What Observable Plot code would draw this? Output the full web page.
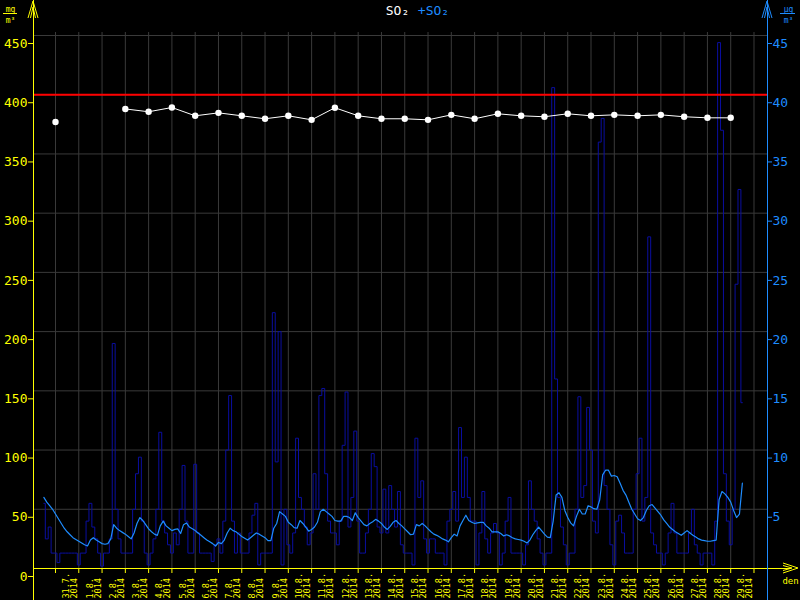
<!DOCTYPE html>
<html><head><meta charset="utf-8">
<script src="https://cdn.jsdelivr.net/npm/d3@7"></script>
<script src="https://cdn.jsdelivr.net/npm/@observablehq/plot@0.6"></script>
<style>html,body{margin:0;padding:0;background:#000;overflow:hidden;}</style>
</head><body><div id="chart"></div>
<script>
// ---- data ----
const seriesStart = "2014-07-30T12:00:00Z";
const stepHours = 3;
// SO2 concentration (µg/m3), every 3 hours, from 30.7.2014 12:00
const hourlySO2 = [
  5.5, 2.5, 3.5, 1.3,
  1.3, 0.5, 1.3, 1.3, 1.3, 1.3, 1.3, 1.3,
  0.3, 1.3, 1.3, 4.0, 5.5, 3.5, 2.5, 1.3,
  0.2, 1.3, 1.3, 2.5, 19, 5, 2.5, 1.3,
  1.3, 1.3, 1.3, 5, 8, 9.4, 4, 1.3,
  0.3, 1.3, 2.5, 5, 11.5, 4, 3, 2,
  1.3, 3, 2, 5, 8.7, 4, 1.3, 1.3,
  8.8, 3, 1.3, 1.3, 1.3, 1.3, 0.6, 2,
  2.5, 1.3, 4, 10, 14.6, 4, 1.3, 3,
  1.3, 1.3, 1.3, 3, 4.5, 5.5, 0.3, 1.3,
  1.3, 1.3, 1.3, 21.6, 9, 20, 0.3, 5,
  2, 1.3, 3, 11, 6, 5, 3.5, 2,
  3, 8, 5, 14.6, 15.2, 8, 4, 3,
  3, 2, 4, 10.4, 14.9, 3.5, 6, 11.6,
  4, 1.3, 1.3, 3, 5, 9.7, 8.6, 3.5,
  3, 6.7, 3, 7, 5, 3.5, 6.5, 2,
  1.3, 1.3, 1.3, 0.3, 11, 6, 7.4, 2.5,
  1.3, 2.5, 2.5, 1.3, 1.3, 1.3, 0.3, 4,
  5, 6.5, 4, 11.9, 6, 9.4, 6, 4,
  4, 0.3, 3, 6.5, 2.5, 1.3, 3, 3.8,
  3, 0.3, 1.3, 4, 6, 1.3, 1.3, 1.3,
  1.3, 0.3, 2, 7.4, 5, 4, 2.5, 1.3,
  0.3, 1.3, 1.3, 40.6, 16, 6, 3.5, 2,
  0.3, 1.3, 1.3, 5, 14.5, 6, 7, 13.6,
  10, 4, 3, 36, 38, 7, 5, 2,
  0.3, 4, 4.5, 3, 1.3, 1.3, 1.3, 5,
  8, 11, 4, 6, 28, 3, 2, 1.3,
  1.3, 0.3, 1.3, 3, 5.5, 3, 1.3, 1.3,
  1.3, 1.3, 3, 5, 2, 1.3, 0.3, 1.3,
  1.3, 1.3, 0.3, 4, 44.4, 37, 8, 4,
  2, 5, 24, 32, 14
];
// moving average (µg/m3), same timestamps
const avgSO2 = [
  6.0, 5.6, 5.3, 5.0,
  4.6, 4.2, 3.8, 3.4, 3.1, 2.85, 2.6, 2.45,
  2.3, 2.15, 2.0, 1.9, 2.4, 2.6, 2.4, 2.25,
  2.1, 2.05, 2.1, 2.5, 3.7, 3.4, 3.2, 3.05,
  2.9, 2.7, 2.5, 3.0, 3.8, 4.3, 4.05, 3.7,
  3.35, 3.1, 2.9, 2.8, 3.6, 4.0, 3.6, 3.4,
  3.2, 3.3, 3.35, 2.95, 3.7, 3.85, 3.5, 3.35,
  3.2, 3.0, 2.8, 2.6, 2.4, 2.25, 2.1, 1.9,
  2.2, 2.1, 2.4, 3.0, 3.4, 3.2, 3.1, 2.9,
  2.7, 2.55, 2.4, 2.6, 2.8, 3.0, 2.9, 2.75,
  2.6, 2.35, 2.35, 3.4, 3.8, 4.8, 4.6, 4.4,
  3.9, 3.7, 3.45, 3.4, 4.05, 3.8, 3.5, 3.15,
  3.3, 3.5, 3.9, 4.8, 5.0, 4.8, 4.6, 4.4,
  4.05, 4.0, 4.0, 4.4, 4.4, 4.3, 4.05, 4.7,
  4.3, 4.0, 3.7, 3.6, 3.8, 3.95, 4.15, 4.0,
  3.8, 3.5, 3.3, 3.55, 3.9, 4.05, 3.8, 3.6,
  3.35, 3.1, 2.85, 2.9, 3.7, 3.6, 3.8, 3.6,
  3.35, 3.1, 2.9, 2.8, 2.65, 2.5, 2.4, 2.25,
  2.6, 2.9, 2.75, 3.6, 4.05, 4.5, 4.05, 3.9,
  3.8, 3.85, 3.9, 3.9, 3.6, 3.4, 3.1, 3.1,
  3.1, 2.95, 2.75, 2.85, 2.75, 2.6, 2.5, 2.45,
  2.4, 2.3, 2.15, 2.4, 2.85, 3.2, 3.5, 3.2,
  2.9, 2.65, 2.6, 4.0, 6.2, 6.4, 6.0, 4.9,
  4.3, 3.85, 3.6, 4.4, 5.0, 4.6, 4.6, 5.3,
  5.2, 5.05, 5.0, 5.8, 7.9, 8.3, 8.3, 7.8,
  7.85, 7.75, 7.2, 6.6, 6.2, 5.6, 5.0, 4.6,
  4.2, 4.05, 4.3, 4.9, 5.3, 5.4, 5.1, 4.8,
  4.5, 4.1, 3.8, 3.5, 3.3, 3.1, 2.95, 2.8,
  3.0, 3.2, 3.0, 2.8, 2.65, 2.5, 2.4, 2.35,
  2.3, 2.3, 2.35, 2.4, 5.8, 6.5, 6.3, 6.0,
  5.6, 4.9, 4.3, 4.6, 7.2
];
// daily values (left axis)
const dailyDates = ["2014-07-31","2014-08-01","2014-08-02","2014-08-03","2014-08-04","2014-08-05","2014-08-06","2014-08-07","2014-08-08","2014-08-09","2014-08-10","2014-08-11","2014-08-12","2014-08-13","2014-08-14","2014-08-15","2014-08-16","2014-08-17","2014-08-18","2014-08-19","2014-08-20","2014-08-21","2014-08-22","2014-08-23","2014-08-24","2014-08-25","2014-08-26","2014-08-27","2014-08-28","2014-08-29"];
const dailySO2 = [377, null, null, 388, 385.6, 389.2, 382.2, 384.7, 382.2, 379.7, 382.2, 378.8, 389, 382.2, 379.7, 379.7, 378.8, 383, 379.7, 383.9, 382.2, 381.4, 383.9, 382.2, 383, 382.2, 383, 381.4, 380.5, 380.5];
const limitSO2 = 400;
const leftTicks = [0, 50, 100, 150, 200, 250, 300, 350, 400, 450];
const rightTicks = [5, 10, 15, 20, 25, 30, 35, 40, 45];
const gridDates = ["2014-07-31","2014-08-01","2014-08-02","2014-08-03","2014-08-04","2014-08-05","2014-08-06","2014-08-07","2014-08-08","2014-08-09","2014-08-10","2014-08-11","2014-08-12","2014-08-13","2014-08-14","2014-08-15","2014-08-16","2014-08-17","2014-08-18","2014-08-19","2014-08-20","2014-08-21","2014-08-22","2014-08-23","2014-08-24","2014-08-25","2014-08-26","2014-08-27","2014-08-28","2014-08-29","2014-08-30"];
const dayLabels = ["31.7.","1.8.","2.8.","3.8.","4.8.","5.8.","6.8.","7.8.","8.8.","9.8.","10.8.","11.8.","12.8.","13.8.","14.8.","15.8.","16.8.","17.8.","18.8.","19.8.","20.8.","21.8.","22.8.","23.8.","24.8.","25.8.","26.8.","27.8.","28.8.","29.8."];
const yearLabel = "2014";
const xDomain = ["2014-07-30T01:20:00Z", "2014-08-30T13:55:00Z"];

// ---- build tables ----
const t0 = new Date(seriesStart);
const hourly = hourlySO2.map((v, i) => ({date: new Date(+t0 + i * stepHours * 3600e3), v}));
const avg = avgSO2.map((v, i) => ({date: new Date(+t0 + i * stepHours * 3600e3), v}));
const daily = dailyDates.map((d, i) => ({date: new Date(d + "T00:00:00Z"), v: dailySO2[i]}));
const grid = gridDates.map(d => new Date(d + "T00:00:00Z"));
const labels = dayLabels.map((t, i) => ({date: grid[i], t}));

const YEL = "#ffff00", BLUE = "#1e8cff", DARK = "#0a0ea0", GRID = "#3a3a3a";
const FONT = "DejaVu Sans Mono";
const txt = {textAnchor: "middle", lineAnchor: "middle", fontFamily: FONT};

const chart = Plot.plot({
  width: 800, height: 600,
  marginLeft: 33, marginRight: 33, marginTop: 35, marginBottom: 32,
  style: {background: "#000", color: "#fff", fontFamily: FONT},
  x: {type: "utc", domain: xDomain.map(d => new Date(d)), axis: null},
  y: {domain: [0, 450], axis: null},
  marks: [
    Plot.ruleY(leftTicks.slice(1), {stroke: GRID}),
    Plot.ruleX(grid, {stroke: GRID, insetTop: -3}),
    Plot.line(hourly, {x: "date", y: d => d.v * 10, curve: "step", stroke: DARK, strokeWidth: 1}),
    Plot.line(avg, {x: "date", y: d => d.v * 10, stroke: BLUE, strokeWidth: 1.2}),
    Plot.ruleY([limitSO2], {stroke: "#ff0000", strokeWidth: 2}),
    Plot.line(daily, {x: "date", y: "v", stroke: "#fff", strokeWidth: 1}),
    Plot.dot(daily, {x: "date", y: "v", fill: "#fff", r: 3.2}),
    // axes
    Plot.axisY(leftTicks, {anchor: "left", tickSize: 5, tickPadding: 1, color: YEL, fontSize: 13, fontFamily: FONT, dy: 8, label: null}),
    Plot.axisY(rightTicks.map(v => v * 10), {anchor: "right", tickSize: 4, tickPadding: 1, tickFormat: d => d / 10, color: BLUE, fontSize: 13, fontFamily: FONT, dy: 8, label: null}),
    Plot.axisX(grid, {anchor: "bottom", tickSize: 5, tickFormat: () => "", color: YEL, label: null}),
    Plot.text(labels, {x: "date", text: "t", frameAnchor: "bottom", dy: 30, dx: 11, rotate: -90, textAnchor: "start", lineAnchor: "middle", fill: YEL, fontSize: 8.5, fontFamily: FONT}),
    Plot.text(labels, {x: "date", text: () => yearLabel, frameAnchor: "bottom", dy: 30, dx: 19, rotate: -90, textAnchor: "start", lineAnchor: "middle", fill: YEL, fontSize: 8.5, fontFamily: FONT}),
    Plot.ruleY([0], {stroke: YEL, insetRight: -24}),
    Plot.ruleX([new Date(xDomain[0])], {stroke: YEL, insetTop: -35, insetBottom: -32}),
    Plot.ruleX([new Date(xDomain[1])], {stroke: BLUE, insetTop: -35, insetBottom: -32}),
    // titles and units
    Plot.text(["SO₂"], {...txt, text: d => d, frameAnchor: "top", dx: -3, dy: -25, fill: "#fff", fontSize: 13}),
    Plot.text(["+SO₂"], {...txt, text: d => d, frameAnchor: "top", dx: 33, dy: -25, fill: BLUE, fontSize: 13}),
    Plot.text(["mg"], {...txt, text: d => d, frameAnchor: "top-left", dx: -23, dy: -26, fill: YEL, fontSize: 8}),
    Plot.text(["m³"], {...txt, text: d => d, frameAnchor: "top-left", dx: -23, dy: -15, fill: YEL, fontSize: 8}),
    Plot.text(["µg"], {...txt, text: d => d, frameAnchor: "top-right", dx: 21, dy: -26, fill: BLUE, fontSize: 8}),
    Plot.text(["m³"], {...txt, text: d => d, frameAnchor: "top-right", dx: 21, dy: -15, fill: BLUE, fontSize: 8}),
    Plot.text(["den"], {...txt, text: d => d, frameAnchor: "bottom-right", dx: 23, dy: 13, fill: YEL, fontSize: 9})
  ]
});
document.getElementById("chart").appendChild(chart);

// axis arrows and unit fraction bars (decoration)
const svg = d3.select(chart);
const sx = chart.scale("x"), sy = chart.scale("y");
const xl = sx.range[0], xr = sx.range[1], yb = sy.range[0];
const deco = svg.append("g").attr("fill", "none").attr("stroke-width", 1);
function upArrow(x, color) {
  deco.append("path").attr("stroke", color).attr("d", `M${x-5},18L${x},1L${x+5},18M${x-2.5},18L${x},7L${x+2.5},18`);
}
upArrow(xl, YEL);
upArrow(xr, BLUE);
deco.append("path").attr("stroke", YEL).attr("d", `M${xr+16},${yb-5}L${xr+31},${yb}L${xr+16},${yb+5}M${xr+16},${yb-2.5}L${xr+25},${yb}L${xr+16},${yb+2.5}`);
deco.append("path").attr("stroke", YEL).attr("d", `M${xl-30},13.5H${xl-16}`);
deco.append("path").attr("stroke", BLUE).attr("d", `M${xr+13},13.5H${xr+28}`);
</script>
</body></html>
